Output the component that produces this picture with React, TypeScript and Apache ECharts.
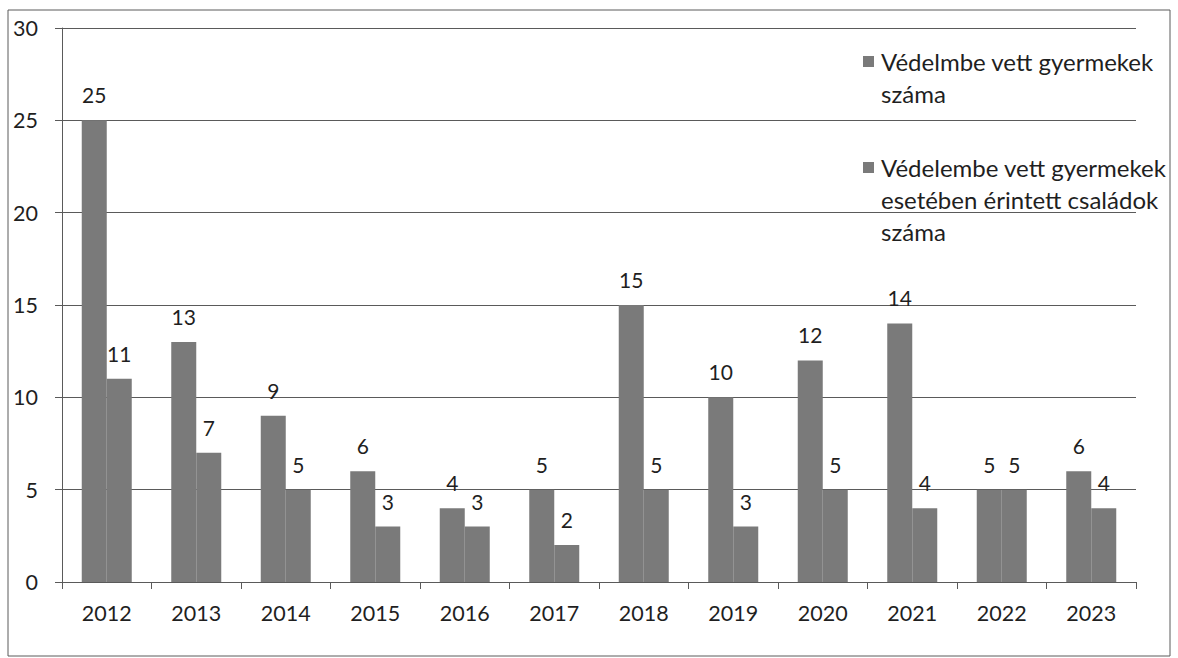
import React, { useEffect, useRef } from "react";
import * as echarts from "echarts";

const categories = ["2012", "2013", "2014", "2015", "2016", "2017", "2018", "2019", "2020", "2021", "2022", "2023"];
const childrenCount = [25, 13, 9, 6, 4, 5, 15, 10, 12, 14, 5, 6];
const familiesCount = [11, 7, 5, 3, 3, 2, 5, 3, 5, 4, 5, 4];
const seriesNames = ["Védelmbe vett gyermekek száma", "Védelembe vett gyermekek esetében érintett családok száma"];
const legendLines = [
  ["Védelmbe vett gyermekek", "száma"],
  ["Védelembe vett gyermekek", "esetében érintett családok", "száma"],
];

const FONT = "Lato, 'Open Sans', sans-serif";
const BAR = "#7a7a7a";
const INK = "#1f1f1f";
const LINE = "#5a5a5a";

export default function App() {
  const ref = useRef<HTMLDivElement>(null);
  useEffect(() => {
    if (!ref.current) return;
    const chart = echarts.init(ref.current, undefined, { renderer: "svg" });
    const legendTop = [45, 151];
    const graphic: any[] = [
      {
        type: "rect",
        shape: { x: 8, y: 10, width: 1162, height: 646 },
        style: { fill: "none", stroke: LINE, lineWidth: 1 },
        silent: true,
      },
    ];
    legendLines.forEach((lines, i) => {
      graphic.push({
        type: "rect",
        shape: { x: 863, y: legendTop[i] + 11, width: 11, height: 11 },
        style: { fill: BAR },
      });
      graphic.push({
        type: "text",
        x: 881,
        y: legendTop[i],
        style: {
          text: lines.join("\n"),
          font: `24px ${FONT}`,
          fill: INK,
          lineHeight: 32,
          textVerticalAlign: "top",
        },
      });
    });
    const label = {
      show: true,
      position: "top" as const,
      distance: 15,
      color: INK,
      fontSize: 21,
      fontFamily: FONT,
    };
    chart.setOption({
      animation: false,
      backgroundColor: "#fff",
      grid: { left: 62, right: 42, top: 28, bottom: 76 },
      xAxis: {
        type: "category",
        data: categories,
        axisLine: { lineStyle: { color: LINE, width: 1 } },
        axisTick: { show: true, length: 7, lineStyle: { color: LINE } },
        axisLabel: { color: INK, fontSize: 21.5, fontFamily: FONT, margin: 20 },
      },
      yAxis: {
        type: "value",
        min: 0,
        max: 30,
        interval: 5,
        axisLine: { show: true, lineStyle: { color: LINE, width: 1 } },
        axisTick: { show: true, length: 7, lineStyle: { color: LINE } },
        axisLabel: { color: INK, fontSize: 21.5, fontFamily: FONT, margin: 24 },
        splitLine: { show: true, lineStyle: { color: LINE, width: 1 } },
      },
      series: [
        {
          name: seriesNames[0],
          type: "bar",
          data: childrenCount,
          itemStyle: { color: BAR },
          barWidth: 25,
          barGap: "0%",
          label,
        },
        {
          name: seriesNames[1],
          type: "bar",
          data: familiesCount,
          itemStyle: { color: BAR },
          barWidth: 25,
          label,
        },
      ],
      graphic,
    });
    return () => chart.dispose();
  }, []);
  return <div ref={ref} style={{ position: "fixed", left: 0, top: 0, width: 1178, height: 658 }} />;
}
